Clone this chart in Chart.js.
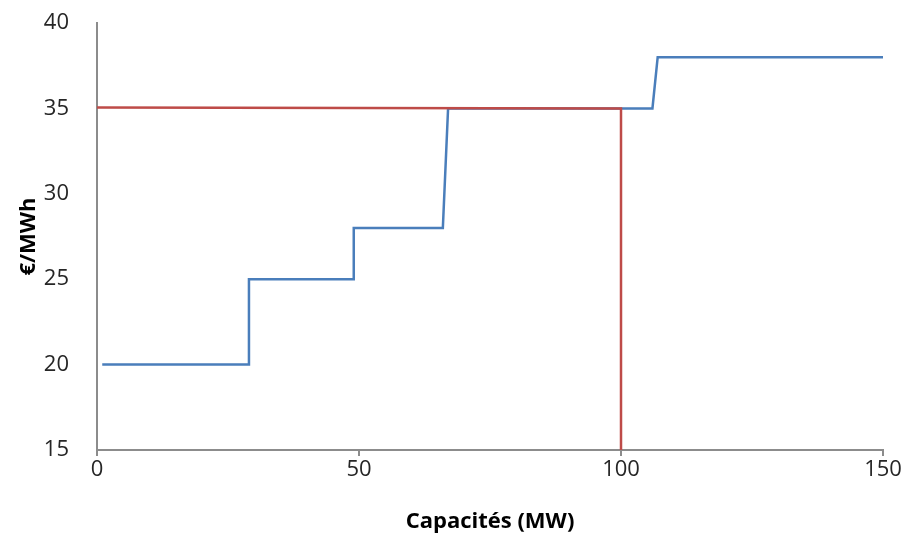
<!DOCTYPE html>
<html>
<head>
<meta charset="utf-8">
<script src="https://cdn.jsdelivr.net/npm/chart.js@4.4.0/dist/chart.umd.min.js"></script>
<style>
  html, body { margin: 0; padding: 0; background: #fff; }
  #wrap { width: 906px; height: 538px; }
</style>
</head>
<body>
<div id="wrap"><canvas id="graf"></canvas></div>
<script>
// courbe d'offre (paliers)
const offreX = [1, 29, 29, 49, 49, 66, 67, 106, 107, 150];
const offreY = [20, 20, 25, 25, 28, 28, 35, 35, 38, 38];
// prix / demande
const demandeX = [0, 100, 100];
const demandeY = [35.05, 35, 15];
const ticksX = [0, 50, 100, 150];
const ticksY = [15, 20, 25, 30, 35, 40];

const pts = (xs, ys) => xs.map((x, i) => ({ x: x, y: ys[i] }));
const police = "'Open Sans', sans-serif";

new Chart(document.getElementById('graf').getContext('2d'), {
    type: 'scatter',
    data: {
        datasets: [{
            data: pts(demandeX, demandeY),
            showLine: true,
            borderColor: '#be4b48',
            borderWidth: 2.5,
            pointRadius: 0,
            tension: 0
        }, {
            data: pts(offreX, offreY),
            showLine: true,
            borderColor: '#4a7ebb',
            borderWidth: 2.5,
            pointRadius: 0,
            tension: 0
        }]
    },
    options: {
        responsive: true,
        maintainAspectRatio: false,
        animation: false,
        layout: { padding: { top: 23, right: 23, left: 0, bottom: 0 } },
        plugins: { legend: { display: false }, tooltip: { enabled: false } },
        scales: {
            x: {
                type: 'linear',
                min: 0, max: 150,
                afterBuildTicks: s => { s.ticks = ticksX.map(v => ({ value: v })); },
                afterFit: s => { s.height = 88; s.paddingLeft = 0; s.paddingRight = 0; },
                border: { color: '#8c8c8c', width: 2 },
                grid: { drawOnChartArea: false, tickLength: 6, color: '#8c8c8c', lineWidth: 2 },
                ticks: { color: '#262626', font: { family: police, size: 22 }, padding: 1, maxRotation: 0 },
                title: {
                    display: true,
                    text: 'Capacités (MW)',
                    color: '#000',
                    font: { family: police, size: 22, weight: 'bold' },
                    padding: { top: 0, bottom: 3 }
                }
            },
            y: {
                type: 'linear',
                min: 15, max: 40,
                afterBuildTicks: s => { s.ticks = ticksY.map(v => ({ value: v })); },
                afterFit: s => { s.width = 97; s.paddingTop = 0; s.paddingBottom = 0; },
                border: { color: '#8c8c8c', width: 2 },
                grid: { display: false },
                ticks: { color: '#262626', font: { family: police, size: 22 }, padding: 20 },
                title: {
                    display: true,
                    text: '€/MWh',
                    color: '#000',
                    font: { family: police, size: 22, weight: 'bold' },
                    padding: { top: 16, bottom: 0 }
                }
            }
        }
    }
});
</script>
</body>
</html>
